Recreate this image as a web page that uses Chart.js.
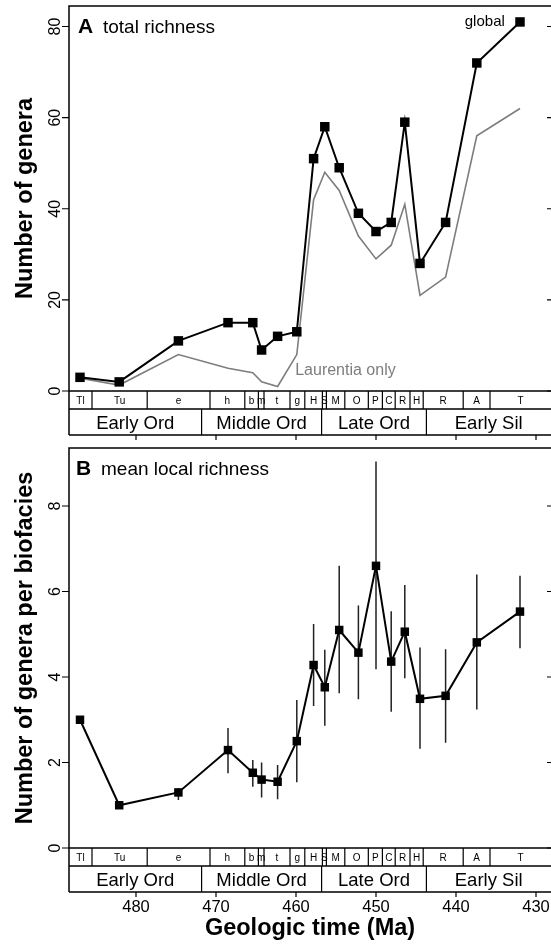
<!DOCTYPE html>
<html>
<head>
<meta charset="utf-8">
<script src="https://cdn.jsdelivr.net/npm/chart.js@4.4.1/dist/chart.umd.min.js"></script>
<style>
  html, body { margin: 0; padding: 0; background: #fff; }
  #wrap { position: relative; width: 551px; height: 945px; }
  canvas { position: absolute; left: 0; display: block; }
  #top { top: 0; }
  #bottom { top: 442px; }
</style>
</head>
<body>
<div id="wrap">
  <canvas id="top" width="551" height="442"></canvas>
  <canvas id="bottom" width="551" height="503"></canvas>
</div>
<script>
// ages (Ma) of each stage point, shared by both panels
const ages = [487.0, 482.1, 474.7, 468.5, 465.4, 464.3, 462.3, 459.9, 457.8, 456.4, 454.6, 452.2, 450.0, 448.1, 446.4, 444.5, 441.3, 437.4, 432.0];

// panel A: total richness
const globalGenera = [3, 2, 11, 15, 15, 9, 12, 13, 51, 58, 49, 39, 35, 37, 59, 28, 37, 72, 81];
const laurentiaGenera = [2.8, 1.3, 8, 5, 4, 2, 1, 8, 42, 48, 44, 34, 29, 32, 41, 21, 25, 56, 62];

// panel B: mean local richness with error bars
const localMean = [3.0, 1.0, 1.3, 2.29, 1.76, 1.6, 1.55, 2.5, 4.28, 3.76, 5.1, 4.57, 6.6, 4.36, 5.06, 3.49, 3.56, 4.81, 5.53];
const localLow = [null, null, 1.12, 1.75, 1.43, 1.18, 1.14, 1.54, 3.32, 2.86, 3.62, 3.48, 4.18, 3.19, 3.97, 2.32, 2.46, 3.24, 4.67];
const localHigh = [null, null, 1.4, 2.81, 2.06, 2.0, 1.94, 3.46, 5.24, 4.64, 6.6, 5.67, 9.04, 5.54, 6.15, 4.69, 4.65, 6.4, 6.37];

// time scale boxes
const stageNames = ['Tl', 'Tu', 'e', 'h', 'b', 'm', 't', 'g', 'H', 'S', 'M', 'O', 'P', 'C', 'R', 'H', 'R', 'A', 'T'];
const stageBounds = [488.375, 485.5, 478.6, 470.75, 466.4, 464.7, 464.0, 460.75, 458.9, 456.7, 456.2, 453.9, 450.96, 449.2, 447.6, 445.75, 444.1, 439.1, 435.75, 428.125];
const seriesNames = ['Early Ord', 'Middle Ord', 'Late Ord', 'Early Sil'];
const seriesBounds = [488.375, 471.8, 456.8, 443.7, 428.125];
const timeTicks = [480, 470, 460, 450, 440, 430];

const FONT = '"Liberation Sans", Arial, Helvetica, sans-serif';
Chart.defaults.font.family = FONT;
Chart.defaults.color = '#000';

// frame, y ticks, time scale boxes and panel labels
const stripPlugin = {
  id: 'strip',
  afterDraw(chart, args, opts) {
    const { ctx, chartArea: a, scales: { x, y } } = chart;
    const b0 = a.bottom, b1 = a.bottom + 18, b2 = a.bottom + 44;
    ctx.save();
    ctx.strokeStyle = '#000';
    ctx.fillStyle = '#000';

    ctx.lineWidth = 1.5;
    ctx.beginPath();
    ctx.moveTo(a.right, a.top); ctx.lineTo(a.left, a.top); ctx.lineTo(a.left, b2);
    ctx.moveTo(a.left, b0); ctx.lineTo(a.right, b0);
    ctx.moveTo(a.left, b1); ctx.lineTo(a.right, b1);
    ctx.moveTo(a.left, b2); ctx.lineTo(a.right, b2);
    ctx.stroke();

    ctx.lineWidth = 1.2;
    ctx.beginPath();
    stageBounds.slice(1, -1).forEach(t => {
      const px = x.getPixelForValue(t);
      ctx.moveTo(px, b0); ctx.lineTo(px, b1);
    });
    seriesBounds.slice(1, -1).forEach(t => {
      const px = x.getPixelForValue(t);
      ctx.moveTo(px, b1); ctx.lineTo(px, b2);
    });
    timeTicks.forEach(t => {
      const px = x.getPixelForValue(t);
      ctx.moveTo(px, b2); ctx.lineTo(px, b2 + 5);
    });
    y.ticks.forEach(t => {
      const py = y.getPixelForValue(t.value);
      ctx.moveTo(a.left - 7, py); ctx.lineTo(a.left, py);
      ctx.moveTo(a.right - 4, py); ctx.lineTo(a.right, py);
    });
    ctx.stroke();

    ctx.textAlign = 'center';
    ctx.textBaseline = 'middle';
    ctx.font = '10px ' + FONT;
    stageNames.forEach((s, i) => {
      const px = (x.getPixelForValue(stageBounds[i]) + x.getPixelForValue(stageBounds[i + 1])) / 2;
      ctx.fillText(s, px, b0 + 10);
    });
    ctx.textBaseline = 'alphabetic';
    ctx.font = '18.5px ' + FONT;
    seriesNames.forEach((s, i) => {
      const px = (x.getPixelForValue(seriesBounds[i]) + x.getPixelForValue(seriesBounds[i + 1])) / 2;
      ctx.fillText(s, px, b2 - 6.5);
    });

    // rotated y tick labels
    ctx.font = '16px ' + FONT;
    y.ticks.forEach(t => {
      const py = y.getPixelForValue(t.value);
      ctx.save();
      ctx.translate(a.left - 9.5, py);
      ctx.rotate(-Math.PI / 2);
      ctx.fillText(String(t.value), 0, 0);
      ctx.restore();
    });

    // panel letter and title
    ctx.textAlign = 'left';
    ctx.font = 'bold 21px ' + FONT;
    ctx.fillText(opts.letter, a.left + opts.dx, a.top + 27);
    ctx.font = '19px ' + FONT;
    ctx.fillText(opts.title, a.left + opts.dx + 25, a.top + 27);

    // line labels
    (opts.notes || []).forEach(n => {
      ctx.font = n.size + 'px ' + FONT;
      ctx.fillStyle = n.color;
      ctx.textAlign = n.align;
      ctx.fillText(n.text, x.getPixelForValue(n.x), y.getPixelForValue(n.y));
    });
    ctx.restore();
  }
};

// vertical error bars for panel B
const errorBarPlugin = {
  id: 'errorBars',
  beforeDatasetsDraw(chart, args, opts) {
    if (!opts.low) return;
    const { ctx, scales: { x, y } } = chart;
    ctx.save();
    ctx.strokeStyle = '#222';
    ctx.lineWidth = 1.5;
    ctx.beginPath();
    ages.forEach((t, i) => {
      if (opts.low[i] == null) return;
      const px = x.getPixelForValue(t);
      ctx.moveTo(px, y.getPixelForValue(opts.low[i]));
      ctx.lineTo(px, y.getPixelForValue(opts.high[i]));
    });
    ctx.stroke();
    ctx.restore();
  }
};

function pts(vals) {
  return ages.map((t, i) => ({ x: t, y: vals[i] }));
}

function xScale(height, showLabels) {
  return {
    type: 'linear',
    reverse: true,
    min: 428.125,
    max: 488.375,
    afterFit: s => {
      s.height = height;
      s.paddingLeft = 0;   // keep the plot area full width
      s.paddingRight = 0;
    },
    border: { display: false },
    grid: { display: false },
    ticks: {
      display: showLabels,
      stepSize: 10,
      includeBounds: false,
      autoSkip: false,
      maxRotation: 0,
      padding: 42,
      color: '#000',
      font: { size: 16.5 }
    },
    title: {
      display: showLabels,
      text: 'Geologic time (Ma)',
      color: '#000',
      font: { size: 23.5, weight: 'bold' },
      padding: { top: 0, bottom: 2 }
    }
  };
}

function yScale(max, step, title) {
  return {
    type: 'linear',
    min: 0,
    max: max,
    afterFit: s => { s.width = 69; },
    border: { display: false },
    grid: { display: false },
    ticks: { display: false, stepSize: step, includeBounds: false },
    title: {
      display: true,
      text: title,
      color: '#000',
      font: { size: 23.5, weight: 'bold' },
      padding: { top: 11, bottom: 0 }
    }
  };
}

new Chart(document.getElementById('top'), {
  type: 'line',
  data: {
    datasets: [
      {
        label: 'global',
        data: pts(globalGenera),
        borderColor: '#000',
        borderWidth: 2,
        pointStyle: 'rect',
        pointRadius: 6.7,
        pointBackgroundColor: '#000',
        pointBorderWidth: 0
      },
      {
        label: 'Laurentia only',
        data: pts(laurentiaGenera),
        borderColor: '#7d7d7d',
        borderWidth: 1.6,
        pointRadius: 0
      }
    ]
  },
  options: {
    responsive: false,
    animation: false,
    devicePixelRatio: 1,
    layout: { autoPadding: false, padding: { top: 6, left: 0, right: 0, bottom: 0 } },
    scales: { x: xScale(51, false), y: yScale(84.5, 20, 'Number of genera') },
    plugins: {
      legend: { display: false },
      tooltip: { enabled: false },
      strip: {
        letter: 'A', title: 'total richness', dx: 9,
        notes: [
          { text: 'global', x: 433.9, y: 80.2, align: 'right', color: '#000', size: 15 },
          { text: 'Laurentia only', x: 460.1, y: 3.5, align: 'left', color: '#7d7d7d', size: 16 }
        ]
      }
    }
  },
  plugins: [stripPlugin]
});

new Chart(document.getElementById('bottom'), {
  type: 'line',
  data: {
    datasets: [
      {
        label: 'mean local richness',
        data: pts(localMean),
        borderColor: '#000',
        borderWidth: 2,
        pointStyle: 'rect',
        pointRadius: 6,
        pointBackgroundColor: '#000',
        pointBorderWidth: 0
      }
    ]
  },
  options: {
    responsive: false,
    animation: false,
    devicePixelRatio: 1,
    layout: { autoPadding: false, padding: { top: 6, left: 0, right: 0, bottom: 0 } },
    scales: { x: xScale(97, true), y: yScale(9.357, 2, 'Number of genera per biofacies') },
    plugins: {
      legend: { display: false },
      tooltip: { enabled: false },
      errorBars: { low: localLow, high: localHigh },
      strip: { letter: 'B', title: 'mean local richness', dx: 7 }
    }
  },
  plugins: [errorBarPlugin, stripPlugin]
});
</script>
</body>
</html>
